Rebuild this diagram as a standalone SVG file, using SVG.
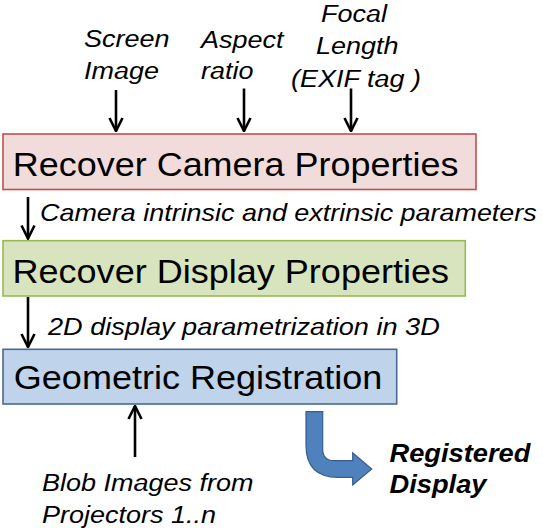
<svg xmlns="http://www.w3.org/2000/svg" width="543" height="528" viewBox="0 0 543 528">
<style>
.lbl{font-family:"Liberation Sans",Arial,sans-serif;font-style:italic;font-size:24px;fill:#000}
.box text{font-family:"Liberation Sans",Arial,sans-serif;font-size:33px;fill:#000}
.out{font-family:"Liberation Sans",Arial,sans-serif;font-style:italic;font-weight:bold;font-size:25.5px;fill:#000}
.arr{stroke:#000;stroke-width:2.6;fill:none}
</style>
<defs>
<marker id="ah" viewBox="-15 -8 16 16" refX="0" refY="0" markerWidth="16" markerHeight="16" markerUnits="userSpaceOnUse" orient="auto">
<path d="M-13,-6.5 L0,0 L-13,6.5" fill="none" stroke="#000" stroke-width="2.6"/>
</marker>
</defs>
<rect width="543" height="528" fill="#fff"/>
<g id="camera" class="box">
<rect x="3" y="134" width="473" height="55.5" fill="#f2dcdb" stroke="#c0504d" stroke-width="1.6"/>
<text transform="translate(12.8,175.5) scale(1.09,1)">Recover Camera Properties</text>
</g>
<g id="display" class="box">
<rect x="3" y="240.7" width="462.3" height="55.3" fill="#d7e4bd" stroke="#98b954" stroke-width="1.6"/>
<text transform="translate(12.5,283) scale(1.092,1)">Recover Display Properties</text>
</g>
<g id="registration" class="box">
<rect x="3" y="349.3" width="393.7" height="54.7" fill="#bfd3eb" stroke="#4a6a8f" stroke-width="1.6"/>
<text transform="translate(13.8,389) scale(1.092,1)">Geometric Registration</text>
</g>
<g id="in-screen">
<text class="lbl" transform="translate(84,47) scale(1.125,1)">Screen</text>
<text class="lbl" transform="translate(84,79.3) scale(1.125,1)">Image</text>
</g>
<g id="in-aspect">
<text class="lbl" transform="translate(201,47.5) scale(1.125,1)">Aspect</text>
<text class="lbl" transform="translate(201,79.3) scale(1.125,1)">ratio</text>
</g>
<g id="in-focal">
<text class="lbl" transform="translate(321,21.7) scale(1.125,1)">Focal</text>
<text class="lbl" transform="translate(316,54.3) scale(1.125,1)">Length</text>
<text class="lbl" transform="translate(291,86.5) scale(1.125,1)">(EXIF tag )</text>
</g>
<g id="in-blob">
<text class="lbl" transform="translate(42,491) scale(1.125,1)">Blob Images from</text>
<text class="lbl" transform="translate(42,523) scale(1.125,1)">Projectors 1..n</text>
</g>
<g id="output">
<path d="M306,411.7 L306,445 Q306,477.3 338,477.3 L352.7,477.3 L352.7,485 L371.7,469 L352.7,452.7 L352.7,460.7 L334,460.7 Q322.7,460.7 322.7,449 L322.7,411.7 Z" fill="#4f81bd" stroke="#385d8a" stroke-width="1.2"/>
<text class="out" transform="translate(389.5,461.7) scale(1.07,1)">Registered</text>
<text class="out" transform="translate(389.5,493.3) scale(1.07,1)">Display</text>
</g>
<g id="connectors">
<line class="arr" x1="116" y1="90" x2="116" y2="131" marker-end="url(#ah)"/>
<line class="arr" x1="244" y1="88.5" x2="244" y2="131" marker-end="url(#ah)"/>
<line class="arr" x1="351" y1="88.5" x2="351" y2="131" marker-end="url(#ah)"/>
<line class="arr" x1="28" y1="197" x2="28" y2="238.5" marker-end="url(#ah)"/>
<text class="lbl" transform="translate(40,220.5) scale(1.122,1)">Camera intrinsic and extrinsic parameters</text>
<line class="arr" x1="28" y1="297" x2="28" y2="347" marker-end="url(#ah)"/>
<text class="lbl" transform="translate(48,335) scale(1.13,1)">2D display parametrization in 3D</text>
<line class="arr" x1="135" y1="457" x2="135" y2="406" marker-end="url(#ah)"/>
</g>
</svg>
